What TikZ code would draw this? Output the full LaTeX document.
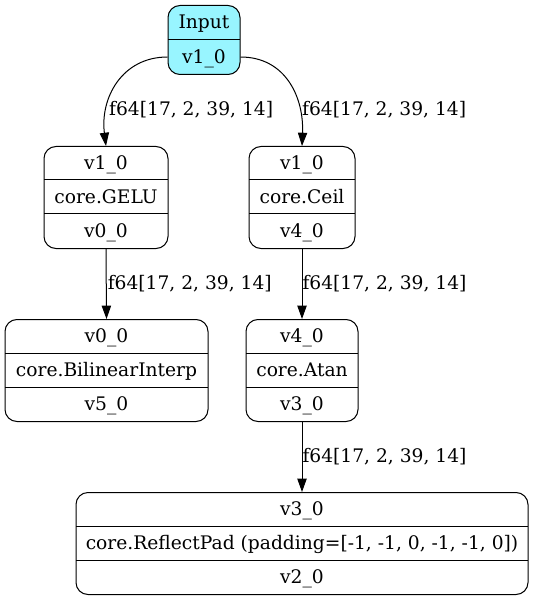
\documentclass[tikz,border=0pt]{standalone}
\usepackage{fontspec}
\setmainfont{DejaVu Serif}
\usetikzlibrary{arrows.meta,calc}
\definecolor{cadet}{HTML}{98F5FF}
\tikzset{
  rec/.style={draw, line width=1pt, rounded corners=12pt, inner sep=0pt},
  divider/.style={line width=1pt},
  lbl/.style={anchor=base, inner sep=0pt, font=\fontsize{18.67}{20}\selectfont},
  elbl/.style={anchor=west, inner sep=1pt, font=\fontsize{18.67}{20}\selectfont},
  edge/.style={line width=1pt, -{Triangle[length=13.3pt,width=9.3pt]}},
}
% name, cx, top, w, h, t1, t2, t3
\newcommand\recthree[8]{%
  \node[rec, minimum width=#4pt, minimum height=#5pt, anchor=north] (#1) at (#2,#3) {};
  \draw[divider] ({#2-#4/2},{#3+#5/3}) -- ({#2+#4/2},{#3+#5/3});
  \draw[divider] ({#2-#4/2},{#3+2*#5/3}) -- ({#2+#4/2},{#3+2*#5/3});
  \node[lbl] (#1-a) at ({#2},{#3+#5/6+6.5}) {#6};
  \node[lbl] (#1-b) at ({#2},{#3+#5/2+6.5}) {#7};
  \node[lbl] (#1-c) at ({#2},{#3+5*#5/6+6.5}) {#8};
}
\begin{document}
\begin{tikzpicture}[x=1pt,y=-1pt]
\useasboundingbox (0,0) rectangle (534,601);
% Input node
\node[rec, fill=cadet, minimum width=72pt, minimum height=69pt, anchor=north] (in) at (204,5) {};
\draw[divider] (168,39.5) -- (240,39.5);
\node[lbl] (in-a) at (204,28.75) {Input};
\node[lbl] (in-b) at (204,63.5) {v1\_0};
\coordinate (inport) at (204,57);
\recthree{gelu}{106}{146}{124}{102}{v1\_0}{core.GELU}{v0\_0}
\recthree{ceil}{302}{146}{106}{102}{v1\_0}{core.Ceil}{v4\_0}
\recthree{bil}{106.5}{319}{203}{102}{v0\_0}{core.BilinearInterp}{v5\_0}
\recthree{atan}{302}{319}{112}{102}{v4\_0}{core.Atan}{v3\_0}
\recthree{refl}{302}{492}{452}{102}{v3\_0}{core.ReflectPad (padding=[-1, -1, 0, -1, -1, 0])}{v2\_0}
% edges
\draw[edge] (in.west |- inport) .. controls (122,57) and (100,98) .. (gelu.north);
\node[elbl] (l1) at (108,110) {f64[17, 2, 39, 14]};
\draw[edge] (in.east |- inport) .. controls (286,57) and (304,98) .. (ceil.north);
\node[elbl] (l2) at (301,110) {f64[17, 2, 39, 14]};
\draw[edge] (gelu.south) -- node[elbl, pos=0.5] (l3) {f64[17, 2, 39, 14]} (bil.north);
\draw[edge] (ceil.south) -- node[elbl, pos=0.5, inner sep=0pt] (l4) {f64[17, 2, 39, 14]} (atan.north);
\draw[edge] (atan.south) -- node[elbl, pos=0.5, inner sep=0pt] (l5) {f64[17, 2, 39, 14]} (refl.north);
\end{tikzpicture}
\end{document}
